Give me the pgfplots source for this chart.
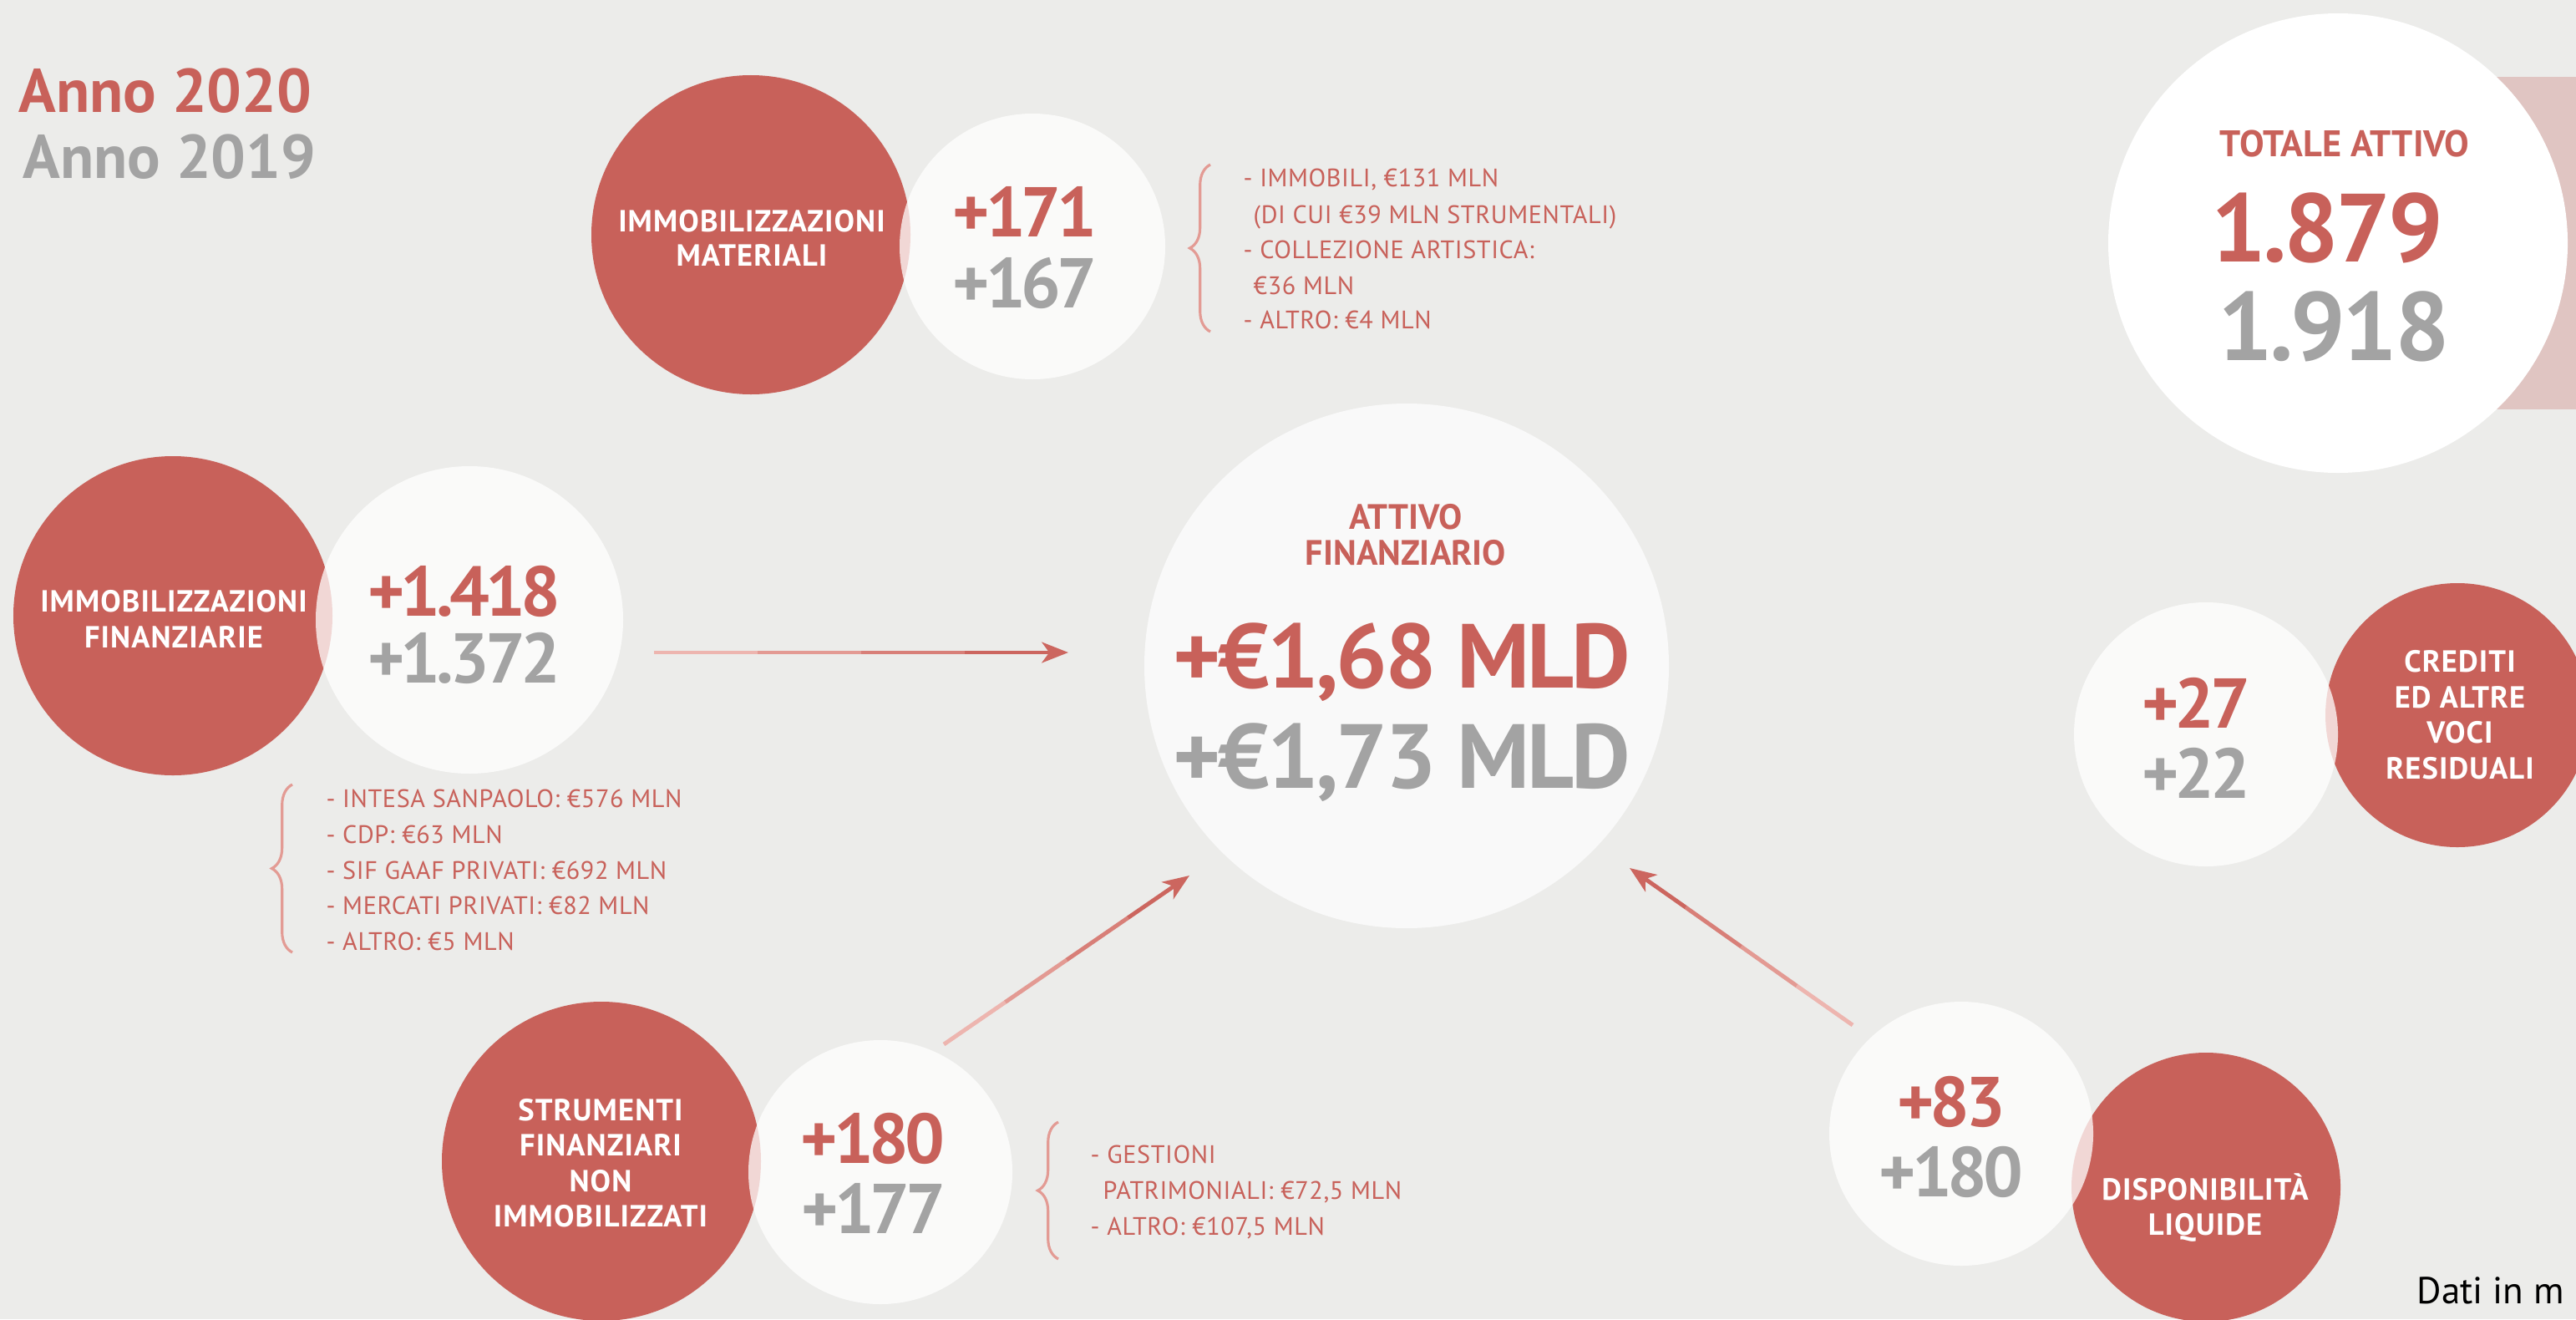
\documentclass[border=0pt]{standalone}
\usepackage{fontspec}
\setmainfont{PT Sans}
\newfontfamily\numfont[LetterSpace=-3]{PT Sans}
\newfontfamily\cifre[LetterSpace=-6]{PT Sans}
\newfontfamily\labfont[LetterSpace=3]{PT Sans}
\newfontfamily\listfont[LetterSpace=2]{PT Sans}
\usepackage{pgfplots}
\usepackage{pgfplotstable}
\pgfplotsset{compat=1.18}
\usetikzlibrary{arrows.meta,decorations.pathreplacing}

\definecolor{sfondo}{HTML}{ECECEA}
\definecolor{rosso}{HTML}{C8615A}
\definecolor{grigio}{HTML}{A3A3A3}
\definecolor{bianco}{HTML}{F9F9F9}
\definecolor{rosa}{HTML}{E0C5C2}
\definecolor{graffa}{HTML}{E39B94}
\definecolor{frA}{HTML}{EDB5AF}
\definecolor{frB}{HTML}{E39A93}
\definecolor{frC}{HTML}{D87F78}
\definecolor{frD}{HTML}{CC665F}

% coordinates are pixels of the original (y grows downwards), r = radius
\pgfplotstableread{
x y r
899 281 191
207 737 191
720 1390 191
2942 856 158
2641 1421 161
}\rossi
\pgfplotstableread{
x y r
1236 295 159
562 742 184
1054 1403 158
2641 879 158
2348 1357 158
}\bianchi
\pgfplotstableread{
x y r
2799 291 275
}\totale
\pgfplotstableread{
x y r
1684 797 314
}\centro

\pgfplotsset{
  tela/.style={at={(0,0)}, anchor=south west,
    width=30.84cm, height=15.79cm, scale only axis,
    xmin=0, xmax=3084, ymin=0, ymax=1579, y dir=reverse,
    hide axis, clip=false},
  bolla/.style 2 args={scatter, only marks, mark=*,
    scatter/use mapped color={draw opacity=0, fill=#1, fill opacity=#2},
    mark options={draw opacity=0},
    visualization depends on={\thisrow{r} \as \raggio},
    scatter/@pre marker code/.append style={/tikz/mark size=0.28453pt*\raggio}},
  freccia/.style={line width=1.4pt, line cap=butt},
  punta/.style={-{Stealth[length=9pt, width=7pt, inset=2.5pt]}},
  graffa/.style={draw=graffa, line width=0.9pt, decorate,
    decoration={brace, amplitude=7pt}},
}
\tikzset{
  voce/.style={anchor=base, inner sep=0pt, text=white,
    font=\fontsize{10.4}{12}\selectfont\labfont\bfseries},
  lista/.style={anchor=base west, inner sep=0pt, text=rosso,
    font=\fontsize{8.6}{10}\selectfont\listfont},
  num/.style={anchor=base, inner sep=0pt, text=#1,
    font=\fontsize{24}{26}\selectfont\cifre\bfseries},
}

\begin{document}
\begin{tikzpicture}
\begin{axis}[tela]
% background and the pink band behind the total
\addplot[fill=sfondo, draw=none] coordinates {(0,0) (3084,0) (3084,1579) (0,1579)};
\addplot[fill=rosa, draw=none] coordinates {(2988,92) (3100,92) (3100,490) (2988,490)};

% circles
\addplot[bolla={rosso}{1}] table {\rossi};
\addplot[bolla={white}{0.75}] table {\bianchi};
\addplot[bolla={white}{1}] table {\totale};
\addplot[bolla={bianco}{1}] table {\centro};

% arrows (light to dark)
\addplot[freccia, frA] coordinates {(783,781) (907,781)};
\addplot[freccia, frB] coordinates {(907,781) (1031,781)};
\addplot[freccia, frC] coordinates {(1031,781) (1155,781)};
\addplot[freccia, frD, punta] coordinates {(1155,781) (1279,781)};
\addplot[freccia, frA] coordinates {(1130,1250) (1203.5,1199.5)};
\addplot[freccia, frB] coordinates {(1203.5,1199.5) (1277,1149)};
\addplot[freccia, frC] coordinates {(1277,1149) (1350.5,1098.5)};
\addplot[freccia, frD, punta] coordinates {(1350.5,1098.5) (1424,1048)};
\addplot[freccia, frA] coordinates {(2218,1227) (2151,1180)};
\addplot[freccia, frB] coordinates {(2151,1180) (2084.5,1133)};
\addplot[freccia, frC] coordinates {(2084.5,1133) (2018,1086)};
\addplot[freccia, frD, punta] coordinates {(2018,1086) (1951,1039)};

% braces
\addplot[graffa] coordinates {(1449,397) (1449,197)};
\addplot[graffa] coordinates {(350,1140) (350,939)};
\addplot[graffa] coordinates {(1267,1507) (1267,1343)};
\end{axis}

% texts, in a second axis so that they lie above the circles
\begin{axis}[tela]
% legend
\node[anchor=base west, inner sep=0pt, text=rosso, font=\fontsize{21}{24}\selectfont\bfseries] at (axis cs:22,134) {Anno 2020};
\node[anchor=base west, inner sep=0pt, text=grigio, font=\fontsize{21}{24}\selectfont\bfseries] at (axis cs:27,213) {Anno 2019};

% immobilizzazioni materiali
\node[voce] at (axis cs:900,277) {IMMOBILIZZAZIONI};
\node[voce] at (axis cs:900,318) {MATERIALI};
\node[num=rosso] at (axis cs:1227,283) {+171};
\node[num=grigio] at (axis cs:1227,368) {+167};
\node[lista] at (axis cs:1488,223) {- IMMOBILI, €131 MLN};
\node[lista] at (axis cs:1500,267) {(DI CUI €39 MLN STRUMENTALI)};
\node[lista] at (axis cs:1488,309) {- COLLEZIONE ARTISTICA:};
\node[lista] at (axis cs:1500,352) {€36 MLN};
\node[lista] at (axis cs:1488,393) {- ALTRO: €4 MLN};

% immobilizzazioni finanziarie
\node[voce] at (axis cs:208,732) {IMMOBILIZZAZIONI};
\node[voce] at (axis cs:208,775) {FINANZIARIE};
\node[num=rosso] at (axis cs:556,737) {+1.418};
\node[num=grigio] at (axis cs:556,817) {+1.372};
\node[lista] at (axis cs:390,966) {- INTESA SANPAOLO: €576 MLN};
\node[lista] at (axis cs:390,1009) {- CDP: €63 MLN};
\node[lista] at (axis cs:390,1052) {- SIF GAAF PRIVATI: €692 MLN};
\node[lista] at (axis cs:390,1094) {- MERCATI PRIVATI: €82 MLN};
\node[lista] at (axis cs:390,1137) {- ALTRO: €5 MLN};

% strumenti finanziari non immobilizzati
\node[voce] at (axis cs:719,1341) {STRUMENTI};
\node[voce] at (axis cs:719,1383) {FINANZIARI};
\node[voce] at (axis cs:719,1426) {NON};
\node[voce] at (axis cs:719,1468) {IMMOBILIZZATI};
\node[num=rosso] at (axis cs:1045,1392) {+180};
\node[num=grigio] at (axis cs:1046,1476) {+177};
\node[lista] at (axis cs:1305,1392) {- GESTIONI};
\node[lista] at (axis cs:1320,1435) {PATRIMONIALI: €72,5 MLN};
\node[lista] at (axis cs:1305,1478) {- ALTRO: €107,5 MLN};

% attivo finanziario
\node[anchor=base, inner sep=0pt, text=rosso, font=\fontsize{12}{14}\selectfont\bfseries] at (axis cs:1683,633) {ATTIVO};
\node[anchor=base, inner sep=0pt, text=rosso, font=\fontsize{12}{14}\selectfont\bfseries] at (axis cs:1683,676) {FINANZIARIO};
\node[anchor=base, inner sep=0pt, text=rosso, font=\fontsize{31}{34}\selectfont\numfont\bfseries] at (axis cs:1678,823) {+€1,68 MLD};
\node[anchor=base, inner sep=0pt, text=grigio, font=\fontsize{31}{34}\selectfont\numfont\bfseries] at (axis cs:1678,943) {+€1,73 MLD};

% totale attivo
\node[anchor=base, inner sep=0pt, text=rosso, font=\fontsize{12.6}{14}\selectfont\bfseries] at (axis cs:2807,187) {TOTALE ATTIVO};
\node[anchor=base, inner sep=0pt, text=rosso, font=\fontsize{33}{36}\selectfont\numfont\bfseries] at (axis cs:2786,313) {1.879};
\node[anchor=base, inner sep=0pt, text=grigio, font=\fontsize{33}{36}\selectfont\numfont\bfseries] at (axis cs:2794,431) {1.918};

% crediti
\node[num=rosso] at (axis cs:2629,871) {+27};
\node[num=grigio] at (axis cs:2629,955) {+22};
\node[voce] at (axis cs:2945,804) {CREDITI};
\node[voce] at (axis cs:2945,847) {ED ALTRE};
\node[voce] at (axis cs:2945,889) {VOCI};
\node[voce] at (axis cs:2945,932) {RESIDUALI};

% disponibilita liquide
\node[num=rosso] at (axis cs:2336,1348) {+83};
\node[num=grigio] at (axis cs:2336,1432) {+180};
\node[voce] at (axis cs:2640,1436) {DISPONIBILITÀ};
\node[voce] at (axis cs:2640,1478) {LIQUIDE};

\node[anchor=base west, inner sep=0pt, text=black, font=\fontsize{12.8}{15}\selectfont] at (axis cs:2893,1560) {Dati in m};
\end{axis}
\pgfresetboundingbox
\path[use as bounding box] (0,0) rectangle (30.84cm,15.79cm);
\end{tikzpicture}
\end{document}
